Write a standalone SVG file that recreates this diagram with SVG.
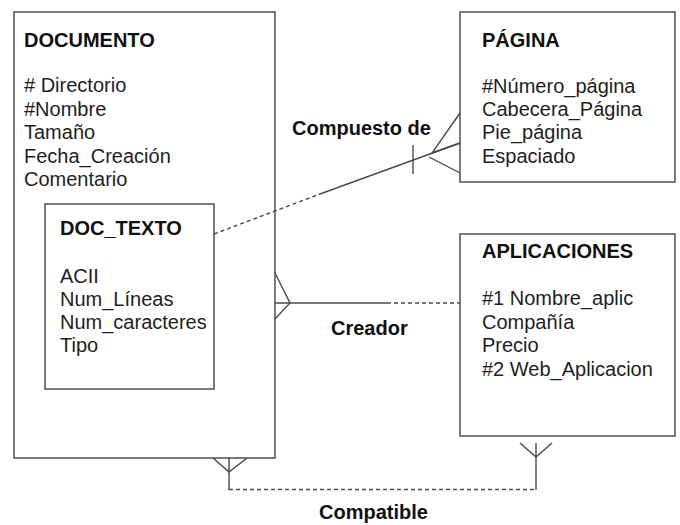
<svg xmlns="http://www.w3.org/2000/svg" width="680" height="525" viewBox="0 0 680 525">
<style>
.box{fill:none;stroke:#5a5a5a;stroke-width:1.6}
.ln{fill:none;stroke:#4a4a4a;stroke-width:1.4}
.dash{fill:none;stroke:#4a4a4a;stroke-width:1.4;stroke-dasharray:4 3}
.t{font-family:"Liberation Sans",Arial,sans-serif;font-size:20px;fill:#1e1e1e}
.b{font-family:"Liberation Sans",Arial,sans-serif;font-size:20px;font-weight:bold;fill:#111}
</style>
<rect width="680" height="525" fill="#fff"/>
<g id="documento">
<rect class="box" x="14" y="12" width="261" height="446"/>
<text class="b" x="24" y="47">DOCUMENTO</text>
<text class="t" x="24" y="92"># Directorio</text>
<text class="t" x="24" y="116">#Nombre</text>
<text class="t" x="24" y="139">Tamaño</text>
<text class="t" x="24" y="163">Fecha_Creación</text>
<text class="t" x="24" y="186">Comentario</text>
</g>
<g id="doc_texto">
<rect class="box" x="45" y="204" width="169" height="185"/>
<text class="b" x="60" y="235">DOC_TEXTO</text>
<text class="t" x="60" y="283">ACII</text>
<text class="t" x="60" y="306">Num_Líneas</text>
<text class="t" x="60" y="329">Num_caracteres</text>
<text class="t" x="60" y="352">Tipo</text>
</g>
<g id="pagina">
<rect class="box" x="460" y="12" width="215" height="170"/>
<text class="b" x="482" y="47">PÁGINA</text>
<text class="t" x="482" y="93">#Número_página</text>
<text class="t" x="482" y="116">Cabecera_Página</text>
<text class="t" x="482" y="139">Pie_página</text>
<text class="t" x="482" y="163">Espaciado</text>
</g>
<g id="aplicaciones">
<rect class="box" x="460" y="234" width="215" height="202"/>
<text class="b" x="482" y="258">APLICACIONES</text>
<text class="t" x="482" y="305">#1 Nombre_aplic</text>
<text class="t" x="482" y="329">Compañía</text>
<text class="t" x="482" y="352">Precio</text>
<text class="t" x="482" y="376">#2 Web_Aplicacion</text>
</g>
<g id="connectors">
<!-- Compuesto de -->
<line class="dash" x1="214" y1="234" x2="320" y2="194"/>
<line class="ln" x1="320" y1="194" x2="460" y2="143"/>
<line class="ln" x1="413" y1="145" x2="413" y2="174"/>
<polyline class="ln" points="460,113 432,153 460,143"/>
<line class="ln" x1="429" y1="157" x2="460" y2="173"/>
<text class="b" x="292" y="135">Compuesto de</text>
<!-- Creador -->
<polyline class="ln" points="275,273 290,303 275,319"/>
<line class="ln" x1="275" y1="303" x2="387" y2="303"/>
<line class="dash" x1="387" y1="303" x2="460" y2="303"/>
<text class="b" x="331" y="335">Creador</text>
<!-- Compatible -->
<polyline class="ln" points="213,458 229,472 247,458"/>
<line class="ln" x1="229" y1="458" x2="229" y2="490"/>
<line class="dash" x1="229" y1="489.5" x2="536" y2="489.5"/>
<polyline class="ln" points="520,443 536,457 552,443"/>
<line class="ln" x1="536" y1="443" x2="536" y2="490"/>
<text class="b" x="319" y="519">Compatible</text>
</g>
</svg>
